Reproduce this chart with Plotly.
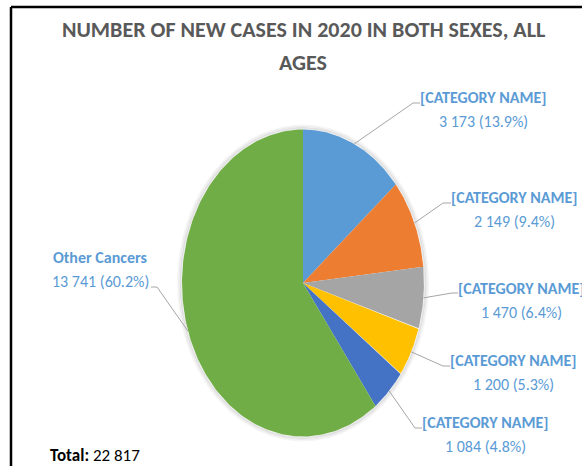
import numpy as np
import plotly.graph_objects as go

# ---- data ----
categories = ["[CATEGORY NAME]", "[CATEGORY NAME]", "[CATEGORY NAME]",
              "[CATEGORY NAME]", "[CATEGORY NAME]", "Other Cancers"]
values = [3173, 2149, 1470, 1200, 1084, 13741]
colors = ["#5B9BD5", "#ED7D31", "#A5A5A5", "#FFC000", "#4472C4", "#70AD47"]
title_lines = ["NUMBER OF NEW CASES IN 2020 IN BOTH SEXES, ALL", "AGES"]

# ---- layout constants (pixel space) ----
W, H = 582, 466
CX, CY, RX, RY = 303, 283, 121, 153.5
label_pos = [(483, 97), (514, 197), (521, 288), (513, 360), (485, 422), (100, 257)]
elbows = [(413, 103), (443, 203), (452, 293), (443, 366), (415, 428), (157, 287)]
ends = [(420, 103), (451, 203), (458, 293), (450, 366), (422, 428), (151, 287)]
FONT = "Carlito, Calibri, Lato, 'Liberation Sans Narrow', 'Open Sans', sans-serif"
LBL = "#5B9BD5"

total = sum(values)
fracs = np.array(values) / total
cum = np.concatenate([[0], np.cumsum(fracs)])

def pt(theta):
    # theta measured clockwise from 12 o'clock (radians)
    return CX + RX * np.sin(theta), CY - RY * np.cos(theta)

fig = go.Figure()

# soft shadow
for k, a in [(4, 0.04), (2.5, 0.06), (1.2, 0.09)]:
    t = np.linspace(0, 2 * np.pi, 361)
    fig.add_trace(go.Scatter(x=CX + (RX + k) * np.sin(t), y=CY - (RY + k) * np.cos(t),
                             mode="lines", line=dict(color=f"rgba(0,0,0,{a})", width=2),
                             hoverinfo="skip", showlegend=False))

for i, (c, v) in enumerate(zip(categories, values)):
    t = np.linspace(cum[i] * 2 * np.pi, cum[i + 1] * 2 * np.pi, 200)
    xs, ys = pt(t)
    xs = np.concatenate([[CX], xs, [CX]])
    ys = np.concatenate([[CY], ys, [CY]])
    fig.add_trace(go.Scatter(x=xs, y=ys, mode="lines", fill="toself", fillcolor=colors[i],
                             line=dict(width=0, color=colors[i]), name=c,
                             hovertext=f"{c}: {v}", hoverinfo="text", showlegend=False))

# leader lines & labels
annotations = []
for i, (c, v) in enumerate(zip(categories, values)):
    mid = (cum[i] + cum[i + 1]) / 2 * 2 * np.pi
    sx, sy = pt(mid)
    fig.add_trace(go.Scatter(x=[sx, elbows[i][0], ends[i][0]], y=[sy, elbows[i][1], ends[i][1]],
                             mode="lines", line=dict(color="#A6A6A6", width=1),
                             hoverinfo="skip", showlegend=False))
    lx, ly = label_pos[i]
    vtxt = f"{v:,}".replace(",", " ") + f" ({v / total * 100:.1f}%)"
    annotations.append(dict(x=lx, y=ly, xref="x", yref="y", text=f"<b>{c}</b>", showarrow=False,
                            font=dict(family=FONT, size=16, color=LBL), xanchor="center", yanchor="middle"))
    annotations.append(dict(x=lx, y=ly + 24, xref="x", yref="y", text=vtxt, showarrow=False,
                            font=dict(family=FONT, size=16, color=LBL), xanchor="center", yanchor="middle"))

annotations.append(dict(x=303, y=29, xref="x", yref="y", text=f"<b>{title_lines[0]}</b>", showarrow=False,
                        font=dict(family=FONT, size=22, color="#595959"), xanchor="center", yanchor="middle"))
annotations.append(dict(x=303, y=62, xref="x", yref="y", text=f"<b>{title_lines[1]}</b>", showarrow=False,
                        font=dict(family=FONT, size=22, color="#595959"), xanchor="center", yanchor="middle"))
annotations.append(dict(x=48, y=455, xref="x", yref="y",
                        text="<b>Total:</b> " + f"{total:,}".replace(",", " "), showarrow=False,
                        font=dict(family=FONT, size=17, color="#000000"), xanchor="left", yanchor="middle"))

fig.update_layout(
    width=W, height=H, margin=dict(l=0, r=0, t=0, b=0),
    paper_bgcolor="white", plot_bgcolor="white",
    xaxis=dict(range=[0, W], visible=False, fixedrange=True),
    yaxis=dict(range=[H, 0], visible=False, fixedrange=True),
    annotations=annotations,
    shapes=[
        dict(type="line", xref="x", yref="y", x0=11, y0=7, x1=W + 5, y1=7, line=dict(color="black", width=2.5)),
        dict(type="line", xref="x", yref="y", x0=11, y0=7, x1=11, y1=H + 5, line=dict(color="black", width=2.5)),
    ],
)

fig.write_html("out.html")
